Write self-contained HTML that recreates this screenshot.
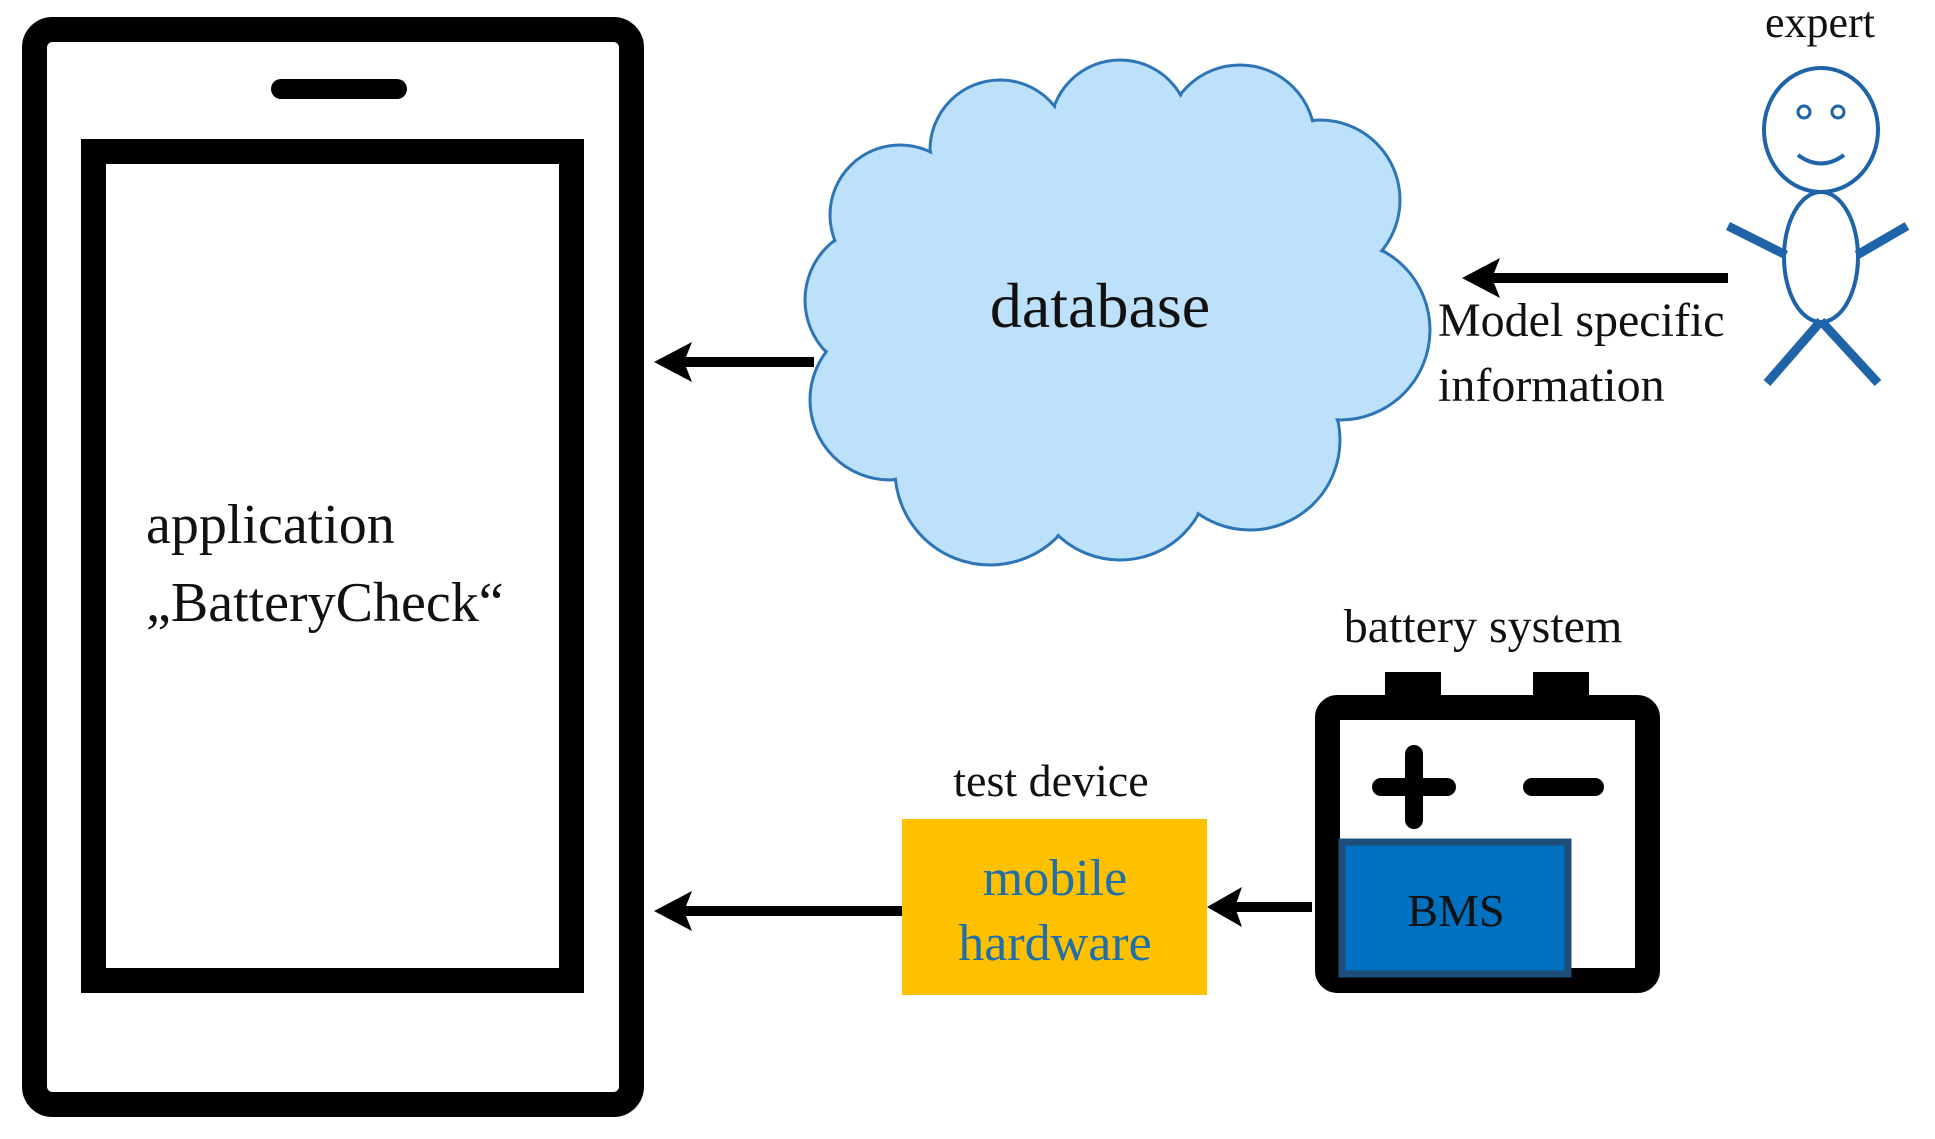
<!DOCTYPE html>
<html><head><meta charset="utf-8"><style>
html,body{margin:0;padding:0;background:#fff;}
svg{display:block;}
text{font-family:"Liberation Serif",serif;}
</style></head><body>
<svg width="1935" height="1139" viewBox="0 0 1935 1139" xmlns="http://www.w3.org/2000/svg">
<!-- phone -->
<rect x="34.5" y="29.5" width="597" height="1075" rx="18" fill="none" stroke="#000" stroke-width="25"/>
<rect x="271" y="79" width="136" height="20" rx="10" fill="#000"/>
<rect x="93.5" y="151.5" width="478" height="829" fill="none" stroke="#000" stroke-width="25"/>
<text x="146" y="543" font-size="56" fill="#111">application</text>
<text x="146" y="621" font-size="56" fill="#111">„BatteryCheck“</text>
<!-- cloud -->
<g stroke="#2e75b6" stroke-width="3" fill="#bde0fb">
<circle cx="880" cy="300" r="75"/><circle cx="890" cy="400" r="80"/>
<circle cx="990" cy="470" r="95"/><circle cx="1120" cy="470" r="90"/><circle cx="1250" cy="440" r="90"/>
<circle cx="1340" cy="330" r="90"/><circle cx="1320" cy="200" r="80"/>
<circle cx="1240" cy="140" r="75"/><circle cx="1120" cy="130" r="70"/><circle cx="1000" cy="150" r="70"/><circle cx="900" cy="215" r="70"/>
</g>
<g fill="#bde0fb">
<circle cx="880" cy="300" r="73"/><circle cx="890" cy="400" r="78"/>
<circle cx="990" cy="470" r="93"/><circle cx="1120" cy="470" r="88"/><circle cx="1250" cy="440" r="88"/>
<circle cx="1340" cy="330" r="88"/><circle cx="1320" cy="200" r="78"/>
<circle cx="1240" cy="140" r="73"/><circle cx="1120" cy="130" r="68"/><circle cx="1000" cy="150" r="68"/><circle cx="900" cy="215" r="68"/>
<ellipse cx="1115" cy="320" rx="240" ry="190"/>
</g>
<text x="1100" y="327" font-size="64" text-anchor="middle" fill="#111">database</text>
<!-- arrows -->
<g stroke="#000" stroke-width="10" fill="none">
<line x1="814" y1="362" x2="680" y2="362"/>
<line x1="1728" y1="278" x2="1488" y2="278"/>
<line x1="907" y1="911" x2="680" y2="911"/>
<line x1="1312" y1="907" x2="1232" y2="907"/>
</g>
<g fill="#000">
<polygon points="654,362 692,342 684,362 692,382"/>
<polygon points="1462,278 1500,258 1492,278 1500,298"/>
<polygon points="654,911 692,891 684,911 692,931"/>
<polygon points="1207,907 1242,887 1235,907 1242,927"/>
</g>
<text x="1438" y="336" font-size="48" fill="#111">Model specific</text>
<text x="1438" y="401" font-size="48" fill="#111">information</text>
<!-- expert -->
<text x="1820" y="37" font-size="44" text-anchor="middle" fill="#111">expert</text>
<g stroke="#1f63a8" fill="none">
<ellipse cx="1821" cy="130" rx="57" ry="62" stroke-width="4" fill="#fff"/>
<circle cx="1804" cy="112" r="6" stroke-width="3"/><circle cx="1838" cy="112" r="6" stroke-width="3"/>
<path d="M1798 155 Q1821 172 1844 155" stroke-width="4"/>
<ellipse cx="1821" cy="257" rx="37" ry="65" stroke-width="4" fill="#fff"/>
<g stroke-width="9">
<line x1="1728" y1="226" x2="1786" y2="255"/><line x1="1907" y1="226" x2="1857" y2="255"/>
<line x1="1821" y1="321" x2="1767" y2="383"/><line x1="1821" y1="321" x2="1878" y2="383"/>
</g>
</g>
<!-- battery -->
<text x="1483" y="642" font-size="48" text-anchor="middle" fill="#111">battery system</text>
<rect x="1385" y="672" width="56" height="28" fill="#000"/>
<rect x="1533" y="672" width="56" height="28" fill="#000"/>
<rect x="1327.5" y="707.5" width="320" height="273" rx="10" fill="none" stroke="#000" stroke-width="25"/>
<g stroke="#000" stroke-width="18" stroke-linecap="round">
<line x1="1381" y1="787" x2="1447" y2="787"/><line x1="1414" y1="754" x2="1414" y2="820"/>
<line x1="1532" y1="787" x2="1595" y2="787"/>
</g>
<rect x="1342" y="842" width="226" height="132" fill="#0070c0" stroke="#1f4e79" stroke-width="7"/>
<text x="1456" y="926" font-size="46" text-anchor="middle" fill="#111">BMS</text>
<!-- test device -->
<text x="1051" y="796" font-size="46" text-anchor="middle" fill="#111">test device</text>
<rect x="902" y="819" width="305" height="176" fill="#ffc000"/>
<text x="1055" y="895" font-size="52" text-anchor="middle" fill="#1f6fa8">mobile</text>
<text x="1055" y="960" font-size="52" text-anchor="middle" fill="#1f6fa8">hardware</text>
</svg>
</body></html>
